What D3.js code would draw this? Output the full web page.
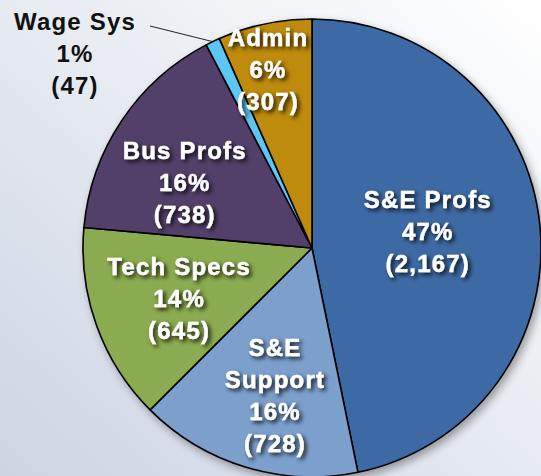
<!DOCTYPE html>
<html lang="en">
<head>
  <meta charset="UTF-8" />
  <script src="https://d3js.org/d3.v7.min.js"></script>
  <style>
    html, body { margin: 0; padding: 0; background: #fff; }
    svg { display: block; }
  </style>
</head>
<body>
<div id="chart"></div>
<script>
// data (clockwise from 12 o'clock)
var categories = ["S&E Profs", "S&E Support", "Tech Specs", "Bus Profs", "Wage Sys", "Admin"];
var counts = [2167, 728, 645, 738, 47, 307];
var percents = [47, 16, 14, 16, 1, 6];
var colors = ["#3C6AA4", "#7C9FCC", "#8AAB50", "#523F6B", "#5CC7F4", "#BF8B0B"];

var width = 541, height = 476;
var cx = 312, cy = 248, radius = 229;

// where each label sits: radius from centre and a small angle shift (degrees)
var labelLayout = {
  "S&E Profs":   { r: 117, shift: -2.3 },
  "S&E Support": { r: 152, shift: -2.6 },
  "Tech Specs":  { r: 142, shift: -0.7 },
  "Bus Profs":   { r: 143, shift: -6.7 },
  "Admin":       { r: 184, shift: -1.9 }
};
var lineH = 32;

var data = categories.map(function (c, i) {
  return { name: c, value: counts[i], pct: percents[i], color: colors[i] };
});

var svg = d3.select("#chart").append("svg")
  .attr("width", width)
  .attr("height", height);

var defs = svg.append("defs");
var bg = defs.append("linearGradient").attr("id", "bg")
  .attr("x1", 1).attr("y1", 0).attr("x2", 0).attr("y2", 1);
bg.append("stop").attr("offset", "0%").attr("stop-color", "#FFFFFF");
bg.append("stop").attr("offset", "100%").attr("stop-color", "#CDD5E3");

defs.append("filter").attr("id", "pieShadow")
  .attr("x", "-20%").attr("y", "-20%").attr("width", "140%").attr("height", "140%")
  .append("feDropShadow")
  .attr("dx", 3).attr("dy", 4).attr("stdDeviation", 4)
  .attr("flood-color", "#000").attr("flood-opacity", 0.35);

defs.append("filter").attr("id", "textShadow")
  .attr("x", "-20%").attr("y", "-30%").attr("width", "140%").attr("height", "160%")
  .append("feDropShadow")
  .attr("dx", 2.5).attr("dy", 2.5).attr("stdDeviation", 2)
  .attr("flood-color", "#000").attr("flood-opacity", 0.85);

svg.append("rect")
  .attr("width", width).attr("height", height)
  .attr("fill", "url(#bg)");

var pie = d3.pie().sort(null).value(function (d) { return d.value; });
var arcs = pie(data);
var arc = d3.arc().innerRadius(0).outerRadius(radius);

var g = svg.append("g").attr("transform", "translate(" + cx + "," + cy + ")");

g.append("g").attr("filter", "url(#pieShadow)")
  .selectAll("path")
  .data(arcs)
  .join("path")
    .attr("d", arc)
    .attr("fill", function (d) { return d.data.color; })
    .attr("stroke", "#000")
    .attr("stroke-width", 1.6)
    .attr("stroke-linejoin", "round");

var fmt = d3.format(",");
function lines(d) {
  var name = d.data.name === "S&E Support" ? ["S&E", "Support"] : [d.data.name];
  return name.concat([d.data.pct + "%", "(" + fmt(d.data.value) + ")"]);
}

function polar(r, angle) {
  return [r * Math.sin(angle), -r * Math.cos(angle)];
}

function labelStyle(sel) {
  sel.attr("text-anchor", "middle")
    .style("font-family", "'Liberation Sans', Arial, sans-serif")
    .style("font-weight", "bold")
    .style("font-size", "24px")
    .style("letter-spacing", "1.2px");
}

// labels inside slices
var inside = arcs.filter(function (d) { return labelLayout[d.data.name]; });
g.selectAll("text.in")
  .data(inside)
  .join("text")
    .attr("class", "in")
    .attr("filter", "url(#textShadow)")
    .call(labelStyle)
    .attr("fill", "#fff")
    .attr("stroke", "#fff")
    .attr("stroke-width", 0.4)
    .each(function (d) {
      var lay = labelLayout[d.data.name];
      var mid = (d.startAngle + d.endAngle) / 2 + lay.shift * Math.PI / 180;
      var p = polar(lay.r, mid);
      var ls = lines(d);
      var y0 = p[1] - (ls.length - 1) * lineH / 2 + 8.6;
      d3.select(this).selectAll("tspan")
        .data(ls)
        .join("tspan")
          .attr("x", p[0])
          .attr("y", function (t, i) { return y0 + i * lineH; })
          .text(function (t) { return t; });
    });

// Wage Sys label outside with leader line
var wage = arcs.find(function (d) { return d.data.name === "Wage Sys"; });
var wMid = (wage.startAngle + wage.endAngle) / 2;
var wEdge = polar(radius, wMid);
var wLabel = [75 - cx, 53 - cy];

g.append("line")
  .attr("x1", wEdge[0]).attr("y1", wEdge[1])
  .attr("x2", wLabel[0] + 75).attr("y2", wLabel[1] - 27)
  .attr("stroke", "#222")
  .attr("stroke-width", 1);

var wl = lines(wage);
g.append("text")
  .call(labelStyle)
  .attr("fill", "#111")
  .selectAll("tspan")
  .data(wl)
  .join("tspan")
    .attr("x", wLabel[0])
    .attr("y", function (t, i) { return wLabel[1] - (wl.length - 1) * lineH / 2 + 8.6 + i * lineH; })
    .text(function (t) { return t; });
</script>
</body>
</html>
